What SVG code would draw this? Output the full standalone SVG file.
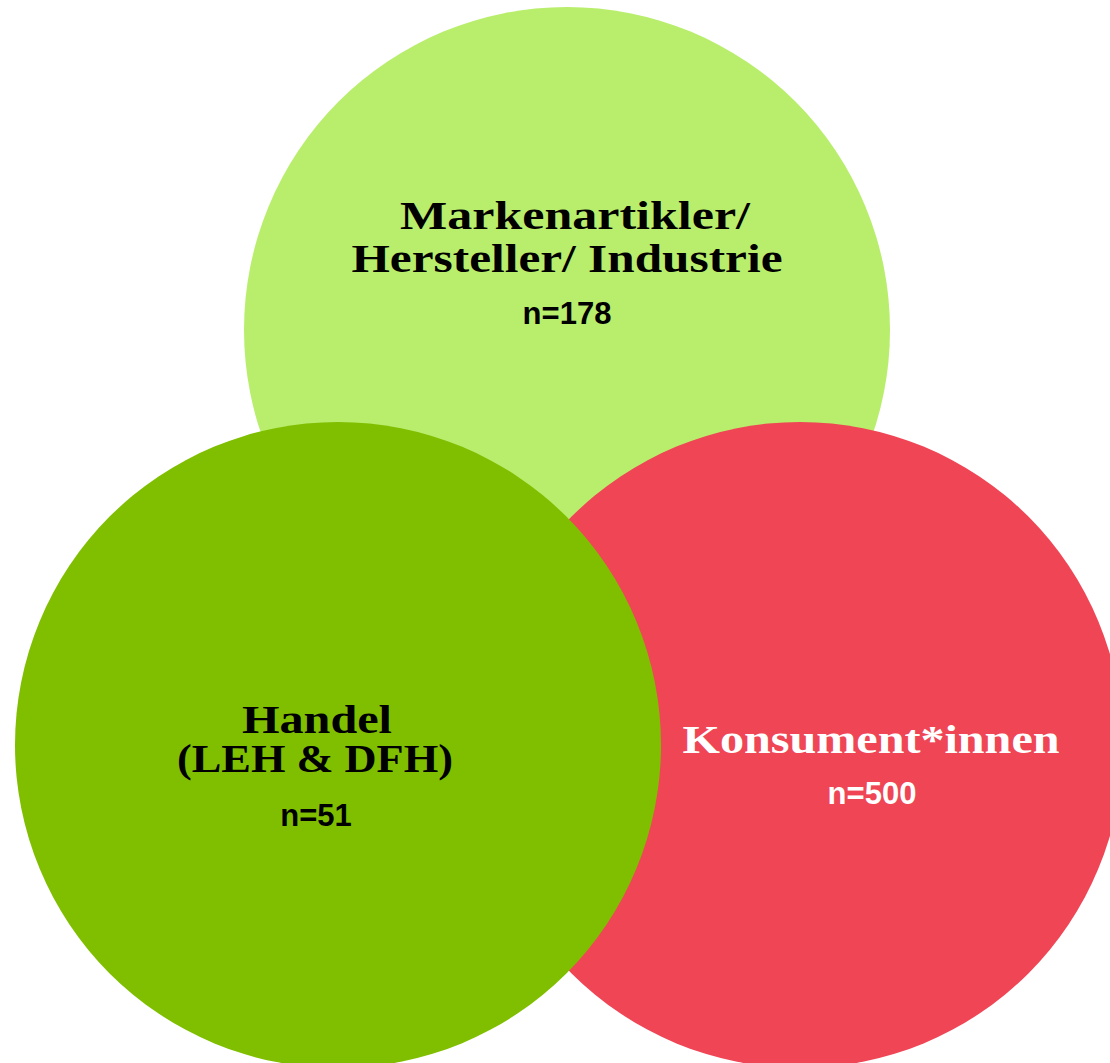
<svg xmlns="http://www.w3.org/2000/svg" width="1110" height="1063" viewBox="0 0 1110 1063">
<style>
.t{font-family:"Liberation Serif","Times New Roman",serif;font-weight:bold;font-size:40px;text-anchor:middle}
.n{font-family:"Liberation Sans",Arial,sans-serif;font-weight:bold;font-size:31px;text-anchor:middle}
</style>
<rect width="1110" height="1063" fill="#ffffff"/>
<g id="hersteller">
<circle cx="567" cy="330" r="323" fill="#B8EE6C"/>
<text class="t" x="575" y="229" textLength="350" lengthAdjust="spacingAndGlyphs">Markenartikler/</text>
<text class="t" x="567" y="272" textLength="431" lengthAdjust="spacingAndGlyphs">Hersteller/ Industrie</text>
<text class="n" x="567" y="324">n=178</text>
</g>
<g id="konsumenten">
<circle cx="800" cy="745" r="323" fill="#EF4555"/>
<text class="t" x="871" y="753" fill="#ffffff" textLength="377" lengthAdjust="spacingAndGlyphs">Konsument*innen</text>
<text class="n" x="872" y="804" fill="#ffffff">n=500</text>
</g>
<g id="handel">
<circle cx="338" cy="745" r="323" fill="#7FBF00"/>
<text class="t" x="317" y="733" textLength="150" lengthAdjust="spacingAndGlyphs">Handel</text>
<text class="t" x="315" y="772" textLength="276" lengthAdjust="spacingAndGlyphs">(LEH &amp; DFH)</text>
<text class="n" x="316" y="826">n=51</text>
</g>
<g id="connectors"/>
</svg>
